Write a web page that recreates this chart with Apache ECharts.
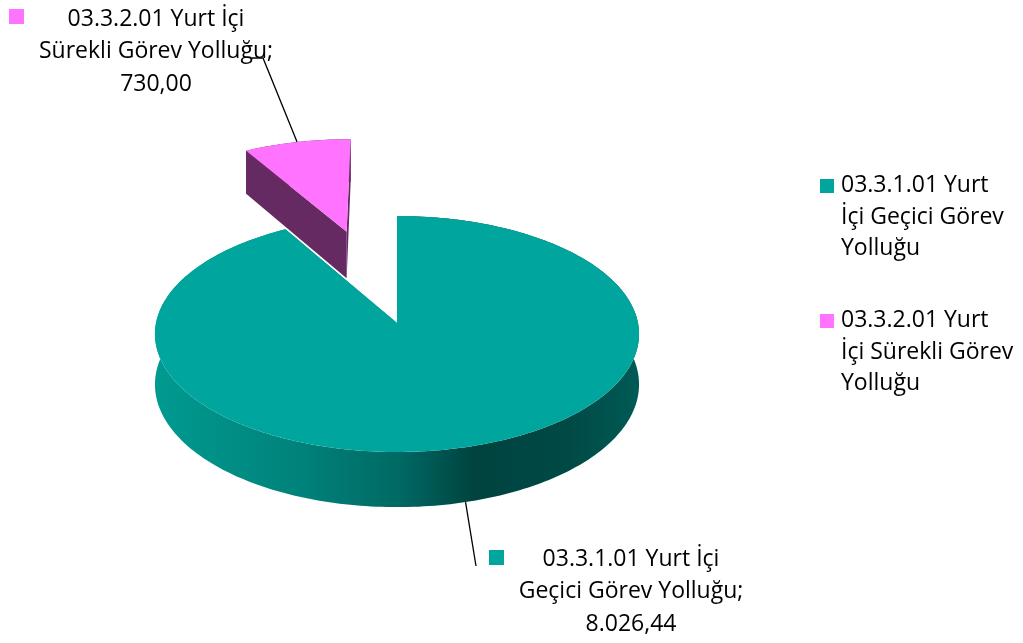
<!DOCTYPE html>
<html>
<head>
<meta charset="utf-8">
<script src="https://cdn.jsdelivr.net/npm/echarts@6/dist/echarts.min.js"></script>
<style>
  html, body { margin: 0; padding: 0; background: #fff; }
  #chart { width: 1023px; height: 643px; }
</style>
</head>
<body>
<div id="chart"></div>
<script>
// Budget items and amounts
const categories = ['03.3.1.01 Yurt İçi Geçici Görev Yolluğu', '03.3.2.01 Yurt İçi Sürekli Görev Yolluğu'];
const values = [8026.44, 730.00];
const topColors = ['#00A69E', '#FF73FF'];
const sideColors = ['#007C75', '#662A63'];
const explode = [0, 0.87];

// Tilted-disc projection with a light perspective
const CX = 397, CY = 323, RX = 241, RY = 117, DEPTH = 50, PERSP = 0.093;
function proj(X, Z, down) {
  const k = 1 / (1 + PERSP * Z);
  return [CX + RX * X * k, CY - RY * Z * k + DEPTH * down * k];
}

const total = values.reduce((a, b) => a + b, 0);
const starts = [];
values.reduce((acc, v, i) => { starts[i] = acc; return acc + v; }, 0);

function sliceGeom(i) {
  const a0 = starts[i] / total * Math.PI * 2;
  const a1 = (starts[i] + values[i]) / total * Math.PI * 2;
  const mid = (a0 + a1) / 2;
  const ox = explode[i] * Math.sin(mid), oz = explode[i] * Math.cos(mid);
  return { a0, a1, mid, ox, oz };
}

function arc(g, down, from, to) {
  const pts = [];
  const n = Math.max(4, Math.ceil(Math.abs(to - from) / 0.02));
  for (let j = 0; j <= n; j++) {
    const a = from + (to - from) * j / n;
    pts.push(proj(g.ox + Math.sin(a), g.oz + Math.cos(a), down));
  }
  return pts;
}

function fmt(v) {
  const [ip, dp] = v.toFixed(2).split('.');
  return ip.replace(/\B(?=(\d{3})+(?!\d))/g, '.') + ',' + dp;
}

const FONT = '23px "Open Sans"';
const ctx = document.createElement('canvas').getContext('2d');
ctx.font = FONT;
function wrap(text, maxW) {
  const words = text.split(' ');
  const lines = [];
  let cur = '';
  words.forEach(w => {
    const t = cur ? cur + ' ' + w : w;
    if (cur && ctx.measureText(t).width > maxW) { lines.push(cur); cur = w; }
    else cur = t;
  });
  if (cur) lines.push(cur);
  return lines;
}

function renderItem(params, api) {
  const i = params.dataIndex;
  const g = sliceGeom(i);
  const base = Math.round((1 - g.oz) * 10) * 10;
  const apexT = proj(g.ox, g.oz, 0), apexB = proj(g.ox, g.oz, 1);
  const children = [];
  [g.a0, g.a1].forEach(a => {
    const rT = proj(g.ox + Math.sin(a), g.oz + Math.cos(a), 0);
    const rB = proj(g.ox + Math.sin(a), g.oz + Math.cos(a), 1);
    children.push({ type: 'polygon', z2: base + 1, shape: { points: [apexT, rT, rB, apexB] },
      style: { fill: sideColors[i] } });
  });
  const sidePts = arc(g, 0, g.a0, g.a1).concat(arc(g, 1, g.a1, g.a0));
  const sideFill = i === 0 ? {
    type: 'linear', x: CX - RX, y: 0, x2: CX + RX, y2: 0, global: true,
    colorStops: [
      { offset: 0, color: '#009A91' }, { offset: 0.3, color: '#00827A' },
      { offset: 0.5, color: '#006A64' }, { offset: 0.66, color: '#00433F' },
      { offset: 0.85, color: '#004945' }, { offset: 1, color: '#005A55' }
    ]
  } : sideColors[i];
  children.push({ type: 'polygon', z2: base + 2, shape: { points: sidePts }, style: { fill: sideFill } });
  children.push({ type: 'polygon', z2: base + 3,
    shape: { points: [apexT].concat(arc(g, 0, g.a0, g.a1)) }, style: { fill: topColors[i] } });
  return { type: 'group', children };
}

// Data labels with leader lines and the legend
const graphics = [];
const labelBoxes = [
  { cx: 631, y: 559, key: [489, 550], end: [476, 566] },
  { cx: 156, y: 19, key: [9, 9], end: [263, 58], elbow: [252, 58] }
];
values.forEach((v, i) => {
  const g = sliceGeom(i);
  const lb = labelBoxes[i];
  const down = Math.cos(g.mid) < 0 ? 1 : 0;
  const anchor = proj(g.ox + Math.sin(g.mid), g.oz + Math.cos(g.mid), down);
  const pts = [anchor, lb.end];
  if (lb.elbow) pts.push(lb.elbow);
  graphics.push({ type: 'polyline', shape: { points: pts }, style: { stroke: '#000', lineWidth: 1.3, fill: null }, z: 5 });
  const lines = wrap(categories[i] + ';', 240);
  lines.push(fmt(v));
  graphics.push({ type: 'rect', shape: { x: lb.key[0], y: lb.key[1], width: 15, height: 15 }, style: { fill: topColors[i] }, z: 5 });
  graphics.push({ type: 'text', z: 5, style: { text: lines.join('\n'), x: lb.cx, y: lb.y - 16.25, font: FONT,
    lineHeight: 32.5, fill: '#000', align: 'center', verticalAlign: 'top' } });
});
const legendTop = [186, 321];
categories.forEach((c, i) => {
  graphics.push({ type: 'rect', shape: { x: 820, y: legendTop[i] - 7, width: 14, height: 14 }, style: { fill: topColors[i] }, z: 5 });
  graphics.push({ type: 'text', z: 5, style: { text: wrap(c, 174).join('\n'), x: 841, y: legendTop[i] - 16, font: FONT,
    lineHeight: 31.5, fill: '#000', align: 'left', verticalAlign: 'top' } });
});

const chart = echarts.init(document.getElementById('chart'), null, { renderer: 'canvas' });
chart.setOption({
  animation: false,
  backgroundColor: '#fff',
  series: [{ type: 'custom', coordinateSystem: 'none', silent: true,
    data: values.map(v => [v]), renderItem }],
  graphic: graphics
});
</script>
</body>
</html>
